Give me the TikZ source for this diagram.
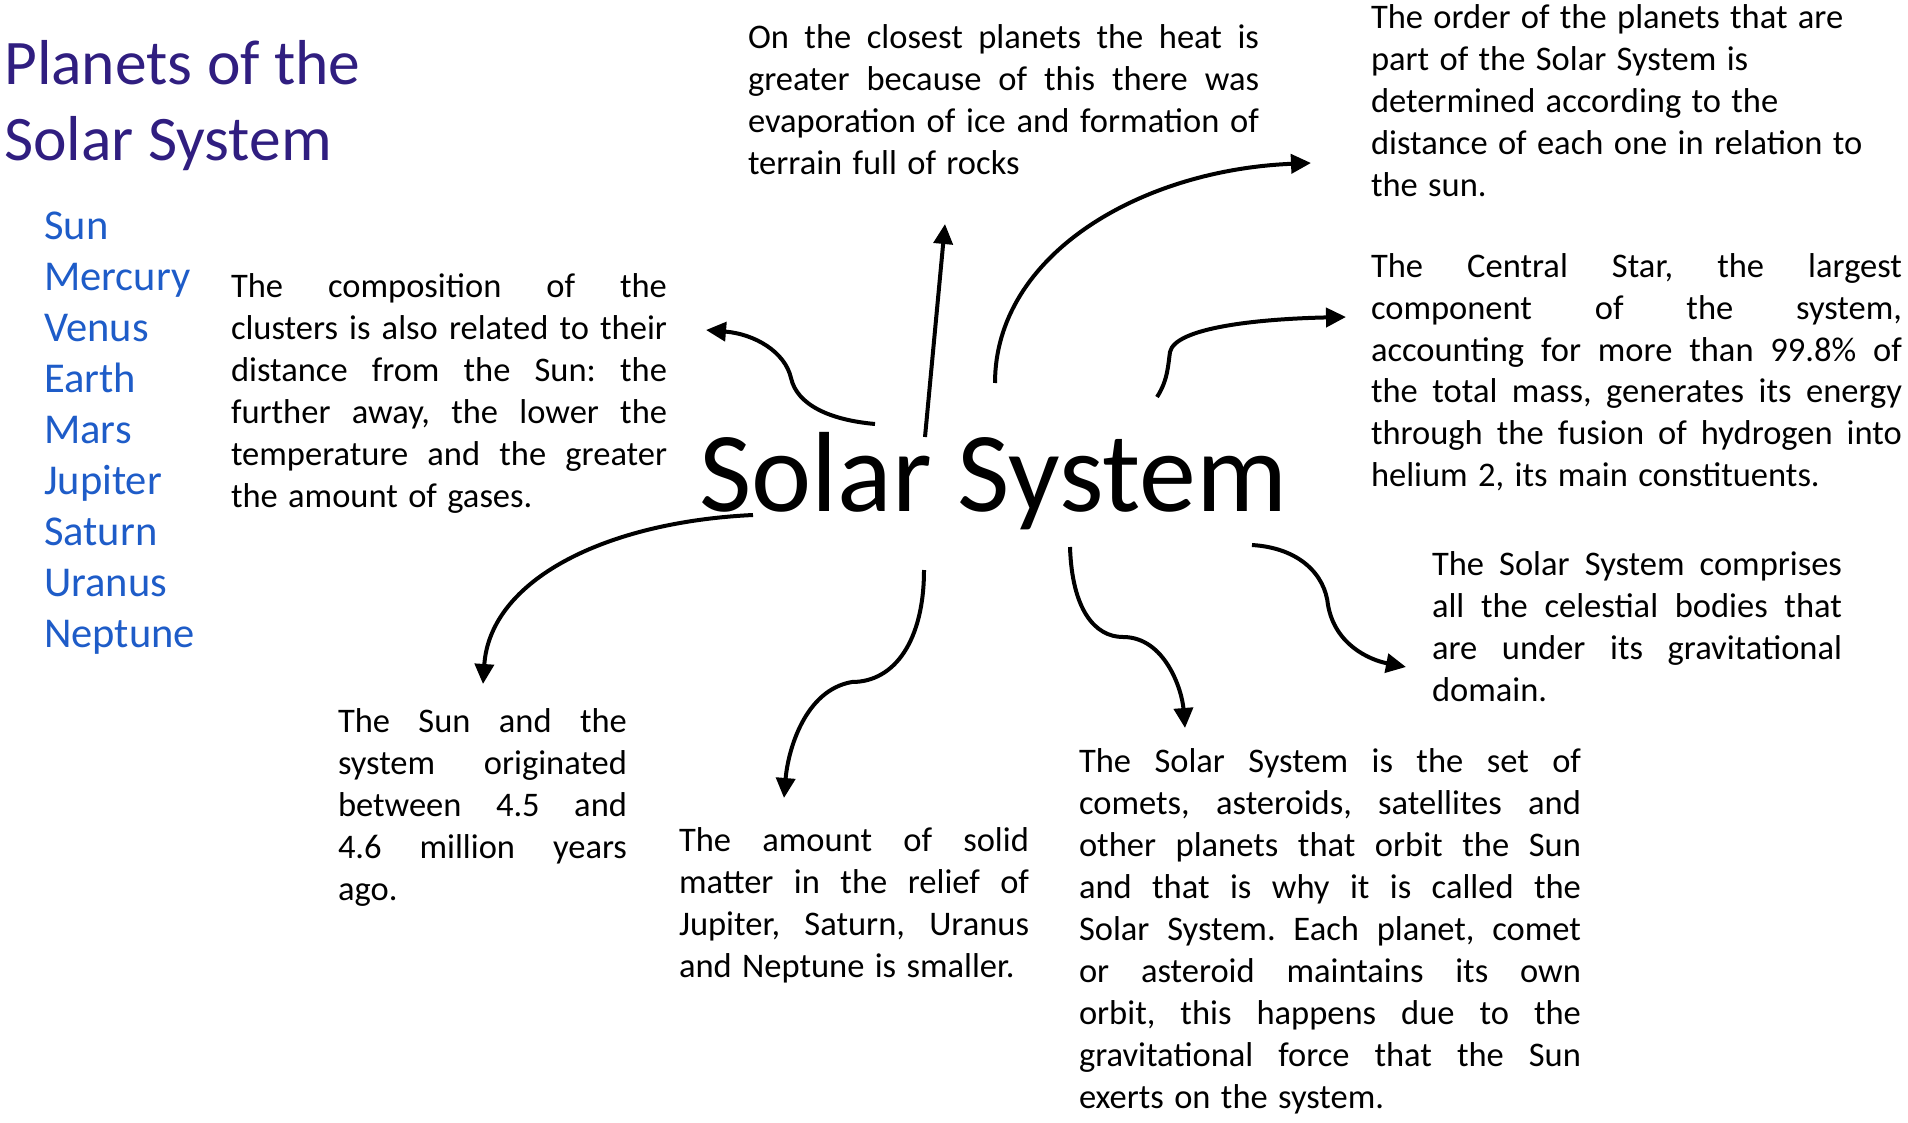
\documentclass[tikz,border=0pt]{standalone}
\usepackage{fontspec}
\setmainfont{Carlito}
\usetikzlibrary{arrows.meta}
\definecolor{titlec}{RGB}{48,30,128}
\definecolor{planetc}{RGB}{30,92,200}
\newcommand{\bsp}{\frenchspacing\spaceskip=.3em plus .4em minus .05em\relax}
\newcommand{\nsp}{\spaceskip=0pt\xspaceskip=0pt\relax}
\newcommand{\jl}[1]{\makebox[\hsize][s]{\bsp #1}\par}
\begin{document}
\begin{tikzpicture}[x=1pt,y=-1pt,
  body/.style={anchor=base west, inner sep=0pt, outer sep=0pt, font={\fontsize{34.5}{42}\selectfont}},
  conn/.style={line width=4pt, -{Triangle[length=20pt,width=19pt]}},
]
\useasboundingbox (0,0) rectangle (1908,1123);

% title and list
\node[anchor=base west, inner sep=0pt, text width=460pt, text=titlec,
      font={\fontsize{63.5}{75.5}\selectfont}] (title) at (4,85) {\nsp Planets of the\par Solar System};
\node[anchor=base west, inner sep=0pt, text width=200pt, text=planetc,
      font={\fontsize{42.5}{51}\selectfont}] (list) at (44,239.7)
  {\nsp Sun\par Mercury\par Venus\par Earth\par Mars\par Jupiter\par Saturn\par Uranus\par Neptune};

% central
\node[anchor=base west, inner sep=0pt, font=\fontsize{114}{130}\selectfont] (main) at (699,511) {Solar System};

% text blocks
\node[body, text width=511pt] (tA) at (748,48.7)
  {\bsp\jl{On the closest planets the heat is}\jl{greater because of this there was}\jl{evaporation of ice and formation of}terrain full of rocks};
\node[body, text width=537pt] (tB) at (1371,29)
  {\bsp The order of the planets that are\par part of the Solar System is\par determined according to the\par distance of each one in relation to\par the sun.};
\node[body, text width=531pt] (tC) at (1371,277)
  {\bsp\jl{The Central Star, the largest}\jl{component of the system,}\jl{accounting for more than 99.8\% of}\jl{the total mass, generates its energy}\jl{through the fusion of hydrogen into}helium 2, its main constituents.};
\node[body, text width=436pt] (tD) at (231,298)
  {\bsp\jl{The composition of the}\jl{clusters is also related to their}\jl{distance from the Sun: the}\jl{further away, the lower the}\jl{temperature and the greater}the amount of gases.};
\node[body, text width=410pt] (tE) at (1432,575.5)
  {\bsp\jl{The Solar System comprises}\jl{all the celestial bodies that}\jl{are under its gravitational}domain.};
\node[body, text width=289pt] (tF) at (338,732.5)
  {\bsp\jl{The Sun and the}\jl{system originated}\jl{between 4.5 and}\jl{4.6 million years}ago.};
\node[body, text width=350pt] (tG) at (679,851.8)
  {\bsp\jl{The amount of solid}\jl{matter in the relief of}\jl{Jupiter, Saturn, Uranus}and Neptune is smaller.};
\node[body, text width=502pt] (tH) at (1079,772.7)
  {\bsp\jl{The Solar System is the set of}\jl{comets, asteroids, satellites and}\jl{other planets that orbit the Sun}\jl{and that is why it is called the}\jl{Solar System. Each planet, comet}\jl{or asteroid maintains its own}\jl{orbit, this happens due to the}\jl{gravitational force that the Sun}exerts on the system.};

% connector ends
\coordinate (s1) at (875,424); \coordinate (e1) at (706,330);
\coordinate (s2) at (925,437); \coordinate (e2) at (945,224);
\coordinate (s3) at (995,383); \coordinate (e3) at (1311,163);
\coordinate (s4) at (1157,397); \coordinate (e4) at (1346,317);
\coordinate (s5) at (1252,545); \coordinate (e5) at (1406,667);
\coordinate (s6) at (1070,547); \coordinate (e6) at (1185,728);
\coordinate (s7) at (924,570); \coordinate (e7) at (784,798);
\coordinate (s8) at (753,515); \coordinate (e8) at (483,684);

\draw[conn] (s1) .. controls (830,420) and (797,405) .. (791,378) .. controls (785,352) and (755,334) .. (e1);
\draw[conn] (s2) -- (e2);
\draw[conn] (s3) .. controls (995,255) and (1140,170) .. (e3);
\draw[conn] (s4) .. controls (1168,380) and (1168,365) .. (1170,352) .. controls (1175,328) and (1255,319) .. (e4);
\draw[conn] (s5) .. controls (1300,548) and (1325,575) .. (1328,605) .. controls (1335,645) and (1370,660) .. (e5);
\draw[conn] (s6) .. controls (1072,610) and (1095,637) .. (1123,637) .. controls (1165,637) and (1182,690) .. (e6);
\draw[conn] (s7) .. controls (924,640) and (895,682) .. (852,682) .. controls (805,690) and (788,750) .. (e7);
\draw[conn] (s8) .. controls (605,522) and (490,580) .. (e8);
\end{tikzpicture}
\end{document}
